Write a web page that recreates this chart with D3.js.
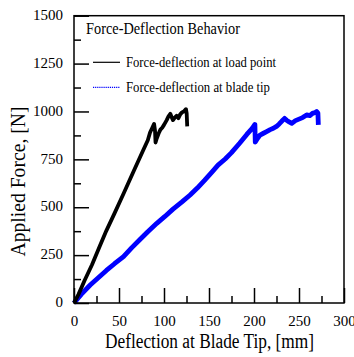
<!DOCTYPE html>
<html>
<head>
<meta charset="utf-8">
<script src="https://cdn.jsdelivr.net/npm/d3@7"></script>
<style>
  html, body { margin: 0; padding: 0; background: #fff; }
  svg { display: block; }
  text { font-family: "Liberation Serif", "Times New Roman", Times, "Nimbus Roman", "DejaVu Serif", serif; fill: #000; }
</style>
</head>
<body>
<script>
// ---- data ----
const loadX = [0, 5, 12, 20, 28, 36, 45, 55, 66, 77, 82, 84.5, 87, 89, 90, 90.6, 92, 94, 96, 98, 100, 103, 105, 107, 108.5, 110, 112, 114, 116, 118, 120, 122, 124.4, 125.2, 125.8];
const loadY = [0, 45, 120, 200, 290, 378, 468, 570, 685, 799, 850, 890, 915, 935, 900, 838, 860, 885, 905, 915, 930, 955, 975, 988, 970, 955, 968, 978, 965, 985, 995, 1000, 1012, 990, 922];
const tipX = [0, 8, 18, 27, 36, 45, 55, 64, 73, 82, 92, 101, 110, 120, 129, 137, 145, 153, 160, 168, 175, 184, 192, 198, 201, 201.4, 204, 206.7, 210, 214, 218, 221.5, 225, 228, 231, 234, 236, 238, 242, 246, 250, 254, 258.5, 262, 265, 268, 269.6, 271, 271.5];
const tipY = [0, 45, 94, 132, 170, 205, 242, 288, 330, 372, 416, 452, 490, 528, 564, 600, 640, 682, 720, 752, 785, 834, 880, 912, 932, 840, 860, 877, 885, 895, 905, 912, 922, 935, 950, 964, 955, 948, 938, 952, 960, 968, 982, 978, 990, 995, 1000, 992, 930];
const xTicks = [0, 50, 100, 150, 200, 250, 300];
const xMinor = [25, 75, 125, 175, 225, 275];
const yTicks = [0, 250, 500, 750, 1000, 1250, 1500];
const yMinor = [125, 375, 625, 875, 1125, 1375];
const legendTitle = "Force-Deflection Behavior";
const seriesNames = ["Force-deflection at load point", "Force-deflection at blade tip"];
const xTitle = "Deflection at Blade Tip, [mm]";
const yTitle = "Applied Force, [N]";

// ---- layout ----
const W = 354, H = 357;
const L = 74, R = 344, T = 15.7, B = 303;
const FONT = "'Liberation Serif', 'Times New Roman', Times, 'Nimbus Roman', 'DejaVu Serif', serif";

const svg = d3.select("body").append("svg").attr("width", W).attr("height", H);

const x = d3.scaleLinear().domain([0, 300]).range([L, R]);
const y = d3.scaleLinear().domain([0, 1500]).range([B, T]);

// series
const line = d3.line().x(d => x(d[0])).y(d => y(d[1]));
const tipData = tipX.map((v, i) => [v, tipY[i]]);
const loadData = loadX.map((v, i) => [v, loadY[i]]);

svg.append("path").attr("d", line(tipData))
  .attr("fill", "none").attr("stroke", "#0000ff").attr("stroke-width", 4.8)
  .attr("stroke-linejoin", "round");
svg.append("path").attr("d", line(loadData))
  .attr("fill", "none").attr("stroke", "#000").attr("stroke-width", 3.8)
  .attr("stroke-linejoin", "round");

// frame
svg.append("rect").attr("x", L).attr("y", T).attr("width", R - L).attr("height", B - T)
  .attr("fill", "none").attr("stroke", "#000").attr("stroke-width", 1.5);

// axes
const fs = "15px";
const xAxis = svg.append("g").attr("transform", `translate(0,${B})`)
  .call(d3.axisBottom(x).tickValues(xTicks).tickSize(-15).tickPadding(12).tickFormat(d3.format("d")));
const xAxisMinor = svg.append("g").attr("transform", `translate(0,${B})`)
  .call(d3.axisBottom(x).tickValues(xMinor).tickSize(-7).tickFormat(""));
const yAxis = svg.append("g").attr("transform", `translate(${L},0)`)
  .call(d3.axisLeft(y).tickValues(yTicks).tickSize(-15).tickPadding(11).tickFormat(d3.format("d")));
const yAxisMinor = svg.append("g").attr("transform", `translate(${L},0)`)
  .call(d3.axisLeft(y).tickValues(yMinor).tickSize(-7).tickFormat(""));

[xAxis, xAxisMinor, yAxis, yAxisMinor].forEach(g => {
  g.attr("font-family", null);
  g.select(".domain").remove();
  g.selectAll("line").attr("stroke", "#000").attr("stroke-width", 1.5);
  g.selectAll("text").style("font-family", FONT).style("font-size", fs).attr("fill", "#000");
});
yAxis.selectAll("text").attr("dy", "0.25em");

// axis titles
svg.append("text").attr("x", 105).attr("y", 348)
  .attr("textLength", 209).attr("lengthAdjust", "spacingAndGlyphs")
  .style("font-family", FONT).style("font-size", "20px").text(xTitle);
svg.append("text").attr("transform", "translate(25,256.5) rotate(-90)")
  .attr("textLength", 150).attr("lengthAdjust", "spacingAndGlyphs")
  .style("font-family", FONT).style("font-size", "20px").text(yTitle);

// legend
svg.append("text").attr("x", 86).attr("y", 34.3)
  .attr("textLength", 154).attr("lengthAdjust", "spacingAndGlyphs")
  .style("font-family", FONT).style("font-size", "16.5px").text(legendTitle);

svg.append("line").attr("x1", 93).attr("x2", 120).attr("y1", 62.3).attr("y2", 62.3)
  .attr("stroke", "#000").attr("stroke-width", 1.2);
svg.append("text").attr("x", 126).attr("y", 66.5)
  .attr("textLength", 150).attr("lengthAdjust", "spacingAndGlyphs")
  .style("font-family", FONT).style("font-size", "14px").text(seriesNames[0]);

svg.append("line").attr("x1", 93).attr("x2", 120).attr("y1", 87.3).attr("y2", 87.3)
  .attr("stroke", "#0000ff").attr("stroke-width", 1.3).attr("stroke-dasharray", "1.2,0.9");
svg.append("text").attr("x", 126).attr("y", 91.5)
  .attr("textLength", 144).attr("lengthAdjust", "spacingAndGlyphs")
  .style("font-family", FONT).style("font-size", "14px").text(seriesNames[1]);
</script>
</body>
</html>
